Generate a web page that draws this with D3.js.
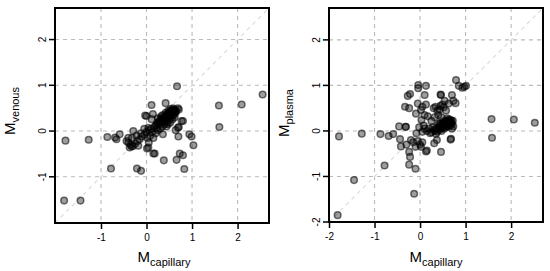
<!DOCTYPE html>
<html>
<head>
<meta charset="utf-8">
<script src="https://cdn.jsdelivr.net/npm/d3@7"></script>
<style>
html,body{margin:0;padding:0;background:#fff;}
svg{display:block;font-family:"Liberation Sans",Arial,Helvetica,sans-serif;}
</style>
</head>
<body>
<svg id="chart" width="550" height="271"></svg>
<script>
// Panel titles
const panelNames = ["venous", "plasma"];
const xTitleSub = "capillary";
const leftTicks = [-1, 0, 1, 2];
const rightTicks = [-2, -1, 0, 1, 2];

// Left panel: [M capillary, M venous]
const venousPoints = [
  [-1.78,-0.21],[-1.27,-0.19],[-1.81,-1.52],[-1.45,-1.52],[-0.78,-0.82],[-0.86,-0.13],[-0.69,-0.14],
  [-0.59,-0.07],[-0.44,-0.22],[-0.29,0.0],[-0.37,-0.36],[-0.21,-0.82],[-0.12,-0.87],[0.01,-0.38],
  [0.15,-0.49],[0.38,-0.64],[0.66,-0.63],[0.73,-0.49],[0.80,-0.53],[0.83,-0.83],[0.94,-0.07],
  [0.99,-0.12],[1.03,-0.31],[0.70,-0.12],[0.64,0.02],[0.71,0.09],[0.80,0.22],[0.71,0.47],
  [0.67,0.98],[0.42,0.61],[0.11,0.57],[0.14,0.37],[-0.03,0.34],[0.36,-0.07],[1.59,0.56],
  [2.09,0.58],[2.55,0.80],[1.60,0.09],[0.69,0.50],[0.00,0.33],[0.11,0.26],[0.04,0.07],
  [-0.66,-0.18],[-0.40,-0.15],[-0.33,-0.33],[0.04,-0.36],[0.18,-0.49],[0.77,0.22],[0.69,0.07],
  [-0.40,-0.25],[-0.35,-0.30],[-0.30,-0.33],[-0.25,-0.28],[-0.20,-0.22],[-0.15,-0.18],[-0.10,-0.12],
  [-0.22,-0.10],[-0.12,-0.05],[-0.05,-0.08],[0.0,-0.02],[0.05,0.02],[-0.05,0.05],[0.02,-0.15],
  [0.08,-0.10],[0.10,0.05],[0.12,-0.02],[-0.32,-0.15],[-0.18,-0.32],[0.05,-0.25],[0.15,-0.15],
  [0.18,0.10],[0.20,-0.05],[0.25,0.02],
  [0.20,0.12],[0.24,0.18],[0.28,0.15],[0.30,0.22],[0.33,0.25],[0.35,0.20],[0.38,0.28],[0.40,0.30],
  [0.42,0.24],[0.44,0.33],[0.46,0.36],[0.48,0.30],[0.50,0.38],[0.52,0.40],[0.54,0.35],[0.55,0.43],
  [0.57,0.45],[0.58,0.40],[0.60,0.47],[0.62,0.44],[0.63,0.40],[0.55,0.30],[0.50,0.25],[0.45,0.20],
  [0.40,0.15],[0.35,0.10],[0.30,0.05],[0.60,0.35],[0.65,0.42],[0.48,0.45],[0.53,0.48],[0.58,0.50],
  [0.42,0.40],[0.36,0.35],[0.25,0.28],[0.22,0.05],[0.47,0.15],[0.52,0.18],[0.62,0.30],[0.57,0.25],
  [0.44,0.10],[0.32,0.32],
  [0.27,0.20],[0.31,0.26],[0.34,0.28],[0.37,0.23],[0.41,0.27],[0.43,0.35],[0.47,0.33],[0.49,0.41],
  [0.51,0.35],[0.53,0.42],[0.56,0.38],[0.59,0.43],[0.61,0.41],[0.64,0.46],[0.39,0.20],[0.23,0.14]
];

// Right panel: [M capillary, M plasma]
const plasmaPoints = [
  [-1.78,-0.12],[-1.28,-0.06],[-1.81,-1.85],[-1.45,-1.08],[-0.78,-0.76],[-0.87,-0.07],[-0.69,-0.11],
  [-0.59,-0.07],[-0.46,0.10],[-0.32,0.09],[-0.44,-0.18],[-0.42,-0.34],[-0.30,-0.30],[-0.24,-0.46],
  [-0.22,-0.57],[-0.24,-0.74],[-0.10,-0.83],[-0.13,-1.38],[0.15,-0.43],[0.46,-0.46],[0.67,-0.19],
  [-0.33,0.53],[-0.24,0.50],[-0.27,0.77],[-0.22,0.81],[-0.04,1.01],[-0.04,0.94],[0.13,0.99],
  [0.10,0.79],[-0.05,0.60],[0.05,0.53],[0.13,0.58],[-0.09,0.38],[0.10,0.35],[0.17,0.32],[0.03,0.24],
  [0.25,0.22],[0.34,0.53],[0.45,0.80],[0.49,0.58],[0.54,0.66],[0.43,0.47],[0.57,0.45],[0.63,0.60],
  [0.70,0.79],[0.73,0.66],[0.78,0.61],[0.79,1.12],[0.85,0.99],[0.97,0.97],[1.01,0.99],[0.93,0.95],
  [1.57,0.26],[2.06,0.25],[2.52,0.18],[1.58,-0.15],
  [-0.15,-0.25],[-0.05,-0.22],[0.0,-0.30],[0.05,-0.25],[-0.20,-0.20],[-0.10,-0.35],[0.02,-0.35],
  [-0.02,0.08],[0.05,-0.02],[0.10,0.05],[0.15,0.0],[0.08,0.12],[-0.08,-0.05],
  [0.25,-0.03],[0.35,-0.06],[0.31,-0.27],[0.37,-0.20],
  [0.30,0.02],[0.35,0.05],[0.40,0.07],[0.42,0.03],[0.45,0.10],[0.48,0.08],[0.50,0.12],[0.52,0.15],
  [0.55,0.13],[0.57,0.18],[0.60,0.16],[0.62,0.20],[0.64,0.17],[0.66,0.22],[0.68,0.19],[0.70,0.15],
  [0.58,0.10],[0.53,0.05],[0.47,0.0],[0.38,-0.02],[0.62,0.10],[0.67,0.12],[0.72,0.22],[0.55,0.22],
  [0.50,0.20],[0.44,0.17],[0.40,0.15],[0.65,0.25],[0.60,0.28],[0.70,0.05],[0.73,0.10],
  [0.32,0.30],[0.40,0.35],[0.47,0.30],[0.38,0.45],[0.45,0.55],[0.52,0.52],[0.30,0.50],
  [0.20,0.05],[0.22,-0.05],[0.28,0.08],[0.02,0.46],[0.46,0.79],[-0.31,0.09],[0.13,-0.45],[0.68,-0.17],
  [0.43,0.12],[0.49,0.14],[0.54,0.18],[0.59,0.21],[0.63,0.14],[0.66,0.18],[0.56,0.08],[0.51,0.09],
  [0.61,0.24],[0.69,0.23],[0.46,0.05],[0.33,0.00]
];

const svg = d3.select("#chart");

const panels = [
  {x0:55, x1:269, y0:8, y1:223, dom:[-2.01,2.69], ticks:leftTicks, pts:venousPoints, sub:panelNames[0], ytc:111, xtc:164},
  {x0:329, x1:543, y0:8, y1:222, dom:[-2.0,2.7], ticks:rightTicks, pts:plasmaPoints, sub:panelNames[1], ytc:113, xtc:436}
];

panels.forEach(p => {
  const x = d3.scaleLinear().domain(p.dom).range([p.x0, p.x1]);
  const y = d3.scaleLinear().domain(p.dom).range([p.y1, p.y0]);
  const g = svg.append("g");

  // grid
  const gridTicks = [-2,-1,0,1,2].filter(t => t > p.dom[0] && t < p.dom[1]);
  g.selectAll(".gx").data(gridTicks).enter().append("line")
    .attr("x1", d => x(d)).attr("x2", d => x(d)).attr("y1", p.y0).attr("y2", p.y1)
    .attr("stroke", "#bababa").attr("stroke-width", 1.1).attr("stroke-dasharray", "4,4");
  g.selectAll(".gy").data(gridTicks).enter().append("line")
    .attr("y1", d => y(d)).attr("y2", d => y(d)).attr("x1", p.x0).attr("x2", p.x1)
    .attr("stroke", "#bababa").attr("stroke-width", 1.1).attr("stroke-dasharray", "4,4");
  // diagonal
  g.append("line")
    .attr("x1", x(p.dom[0])).attr("y1", y(p.dom[0])).attr("x2", x(p.dom[1])).attr("y2", y(p.dom[1]))
    .attr("stroke", "#d9d9d9").attr("stroke-width", 1.1).attr("stroke-dasharray", "4,4");

  // points
  g.selectAll("circle").data(p.pts).enter().append("circle")
    .attr("cx", d => x(d[0])).attr("cy", d => y(d[1])).attr("r", 3.3)
    .attr("fill", "rgba(0,0,0,0.38)").attr("stroke", "rgba(0,0,0,0.55)").attr("stroke-width", 1.5);

  // axes
  const xa = g.append("g").attr("transform", `translate(0,${p.y1})`)
    .call(d3.axisBottom(x).tickValues(p.ticks).tickSize(6).tickPadding(5).tickFormat(d3.format("d")));
  const ya = g.append("g").attr("transform", `translate(${p.x0},0)`)
    .call(d3.axisLeft(y).tickValues(p.ticks).tickSize(6).tickPadding(3).tickFormat(d3.format("d")));
  [xa, ya].forEach(a => {
    a.select(".domain").remove();
    a.selectAll("line").attr("stroke", "#000").attr("stroke-width", 1.5);
    a.selectAll("text").attr("font-size", 10).attr("fill", "#000")
      .attr("font-family", "Liberation Sans, Arial, sans-serif");
  });
  xa.selectAll("text").text(d => d < 0 ? "-" + Math.abs(d) : d);
  ya.selectAll("text").text(d => d < 0 ? "-" + Math.abs(d) : d)
    .attr("text-anchor", "middle").attr("dy", null)
    .attr("transform", function(d){ return `translate(${-13},${y(d)}) rotate(-90)`; })
    .attr("x", 0).attr("y", 0).attr("dy", "0.35em");
  ya.selectAll(".tick").attr("transform", null);
  ya.selectAll(".tick line").attr("transform", d => `translate(0,${y(d)})`);

  // box
  g.append("rect").attr("x", p.x0).attr("y", p.y0).attr("width", p.x1 - p.x0).attr("height", p.y1 - p.y0)
    .attr("fill", "none").attr("stroke", "#000").attr("stroke-width", 2);

  // x title
  const xt = g.append("text").attr("x", p.xtc).attr("y", 262).attr("text-anchor", "middle").attr("fill", "#000");
  xt.append("tspan").attr("font-size", 15).text("M");
  xt.append("tspan").attr("font-size", 11).attr("dy", 4).text(xTitleSub);

  // y title
  const yt = g.append("text").attr("transform", `translate(${p.x0 - 40},${p.ytc}) rotate(-90)`)
    .attr("text-anchor", "middle").attr("fill", "#000");
  yt.append("tspan").attr("font-size", 15).text("M");
  yt.append("tspan").attr("font-size", 11).attr("dy", 4).text(p.sub);
});
</script>
</body>
</html>
